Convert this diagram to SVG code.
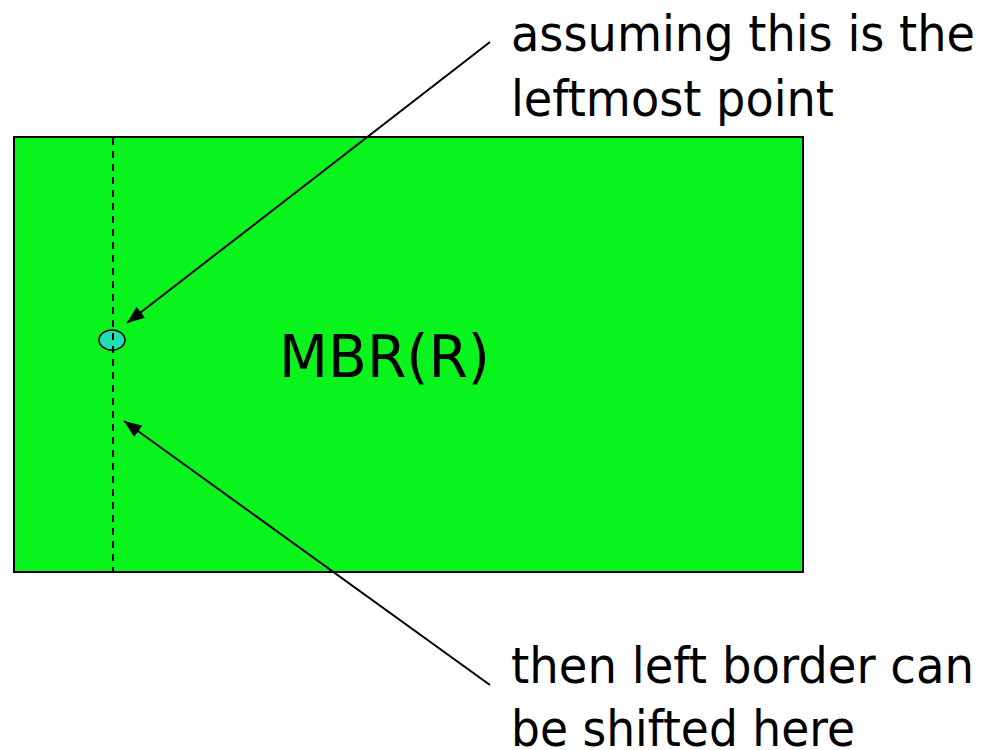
<svg xmlns="http://www.w3.org/2000/svg" width="983" height="750" viewBox="0 0 983 750">
<defs>
<style>
text{font-family:"DejaVu Sans","Liberation Sans",sans-serif;fill:#000}
.lbl{font-size:49px}
.conn{stroke:#000;stroke-width:2;fill:none;marker-end:url(#ah)}
</style>
<marker id="ah" viewBox="0 0 10 8" refX="10" refY="4" markerWidth="18" markerHeight="14" markerUnits="userSpaceOnUse" orient="auto"><path d="M0,0 L10,4 L0,8 z" fill="#000"/></marker>
</defs>
<rect width="983" height="750" fill="#fff"/>
<g id="mbr">
<rect x="14" y="137" width="789" height="435" fill="#08f41c" stroke="#000" stroke-width="2"/>
<text x="279" y="377" font-size="59" textLength="211" lengthAdjust="spacingAndGlyphs">MBR(R)</text>
</g>
<g id="point">
<ellipse cx="112" cy="340" rx="13" ry="10" fill="#1fe0b4" stroke="#000" stroke-width="1.5"/>
</g>
<g id="left-border">
<line x1="113" y1="138" x2="113" y2="571" stroke="#000" stroke-width="2" stroke-dasharray="7,6"/>
</g>
<g id="label-top">
<text class="lbl" x="511" y="51" textLength="464" lengthAdjust="spacingAndGlyphs">assuming this is the</text>
<text class="lbl" x="511" y="116" textLength="323" lengthAdjust="spacingAndGlyphs">leftmost point</text>
</g>
<g id="label-bottom">
<text class="lbl" x="511" y="683" textLength="463" lengthAdjust="spacingAndGlyphs">then left border can</text>
<text class="lbl" x="511" y="746" textLength="344" lengthAdjust="spacingAndGlyphs">be shifted here</text>
</g>
<g id="connectors">
<line class="conn" x1="490" y1="42" x2="127" y2="323"/>
<line class="conn" x1="490" y1="685" x2="124" y2="421"/>
</g>
</svg>
